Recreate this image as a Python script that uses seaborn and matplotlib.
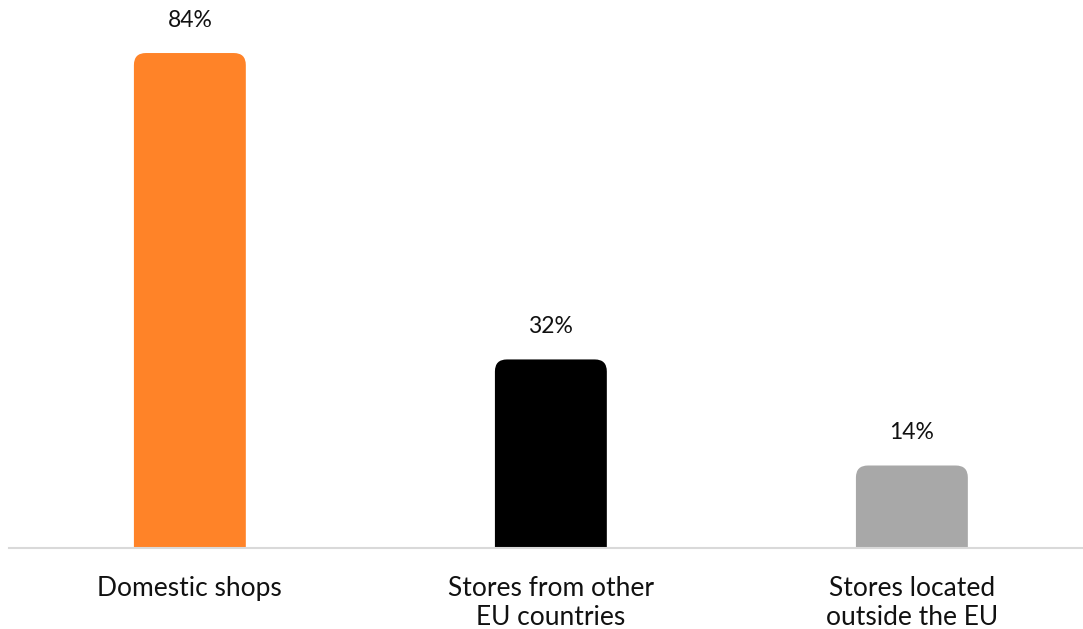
import pandas as pd
import matplotlib
matplotlib.use('Agg')
import matplotlib.pyplot as plt
import seaborn as sns
from matplotlib.patches import FancyBboxPatch

# Data
categories = ['Domestic shops', 'Stores from other\nEU countries', 'Stores located\noutside the EU']
shares = [84, 32, 14]
bar_colors = ['#FF8328', '#000000', '#A8A8A8']

df = pd.DataFrame({'category': categories, 'share': shares})

sns.set_theme(style='white')
plt.rcParams['font.family'] = ['Lato', 'DejaVu Sans']

fig = plt.figure(figsize=(10.83, 6.29), dpi=100)
ax = fig.add_axes([9 / 1083, 81 / 629, 1074 / 1083, 548 / 629])

sns.barplot(data=df, x='category', y='share', hue='category', palette=bar_colors,
            width=0.31, saturation=1, legend=False, ax=ax)

ax.set_ylim(0, 93)
ax.set_xlim(-0.501, 2.474)

# swap plain bars for bars with rounded tops
px_x = 361.0            # pixels per x unit
px_y = 548.0 / 93       # pixels per y unit
r_px = 12
for p in list(ax.patches):
    x0, w, h = p.get_x(), p.get_width(), p.get_height()
    fc = p.get_facecolor()
    p.set_visible(False)
    r = r_px / px_x
    aspect = px_x / px_y
    rounded = FancyBboxPatch((x0 + r, -5 + r * aspect), w - 2 * r, h + 5 - 2 * r * aspect,
                             boxstyle=f'round,pad={r}', mutation_aspect=aspect,
                             facecolor=fc, edgecolor='none', clip_on=True)
    ax.add_patch(rounded)
    ax.text(x0 + w / 2, h + 33 / px_y, f'{h:.0f}%', ha='center', va='center',
            fontsize=16.5, color='#111111')

sns.despine(ax=ax, left=True)
ax.spines['bottom'].set_color('#D9D9D9')
ax.spines['bottom'].set_linewidth(1.5)
ax.set_yticks([])
ax.set_xlabel('')
ax.set_ylabel('')
ax.tick_params(axis='x', length=0, pad=20, labelsize=19, colors='#111111')
for lbl in ax.get_xticklabels():
    lbl.set_verticalalignment('top')
    lbl.set_linespacing(1.2)

fig.savefig('out.png', dpi=100)
